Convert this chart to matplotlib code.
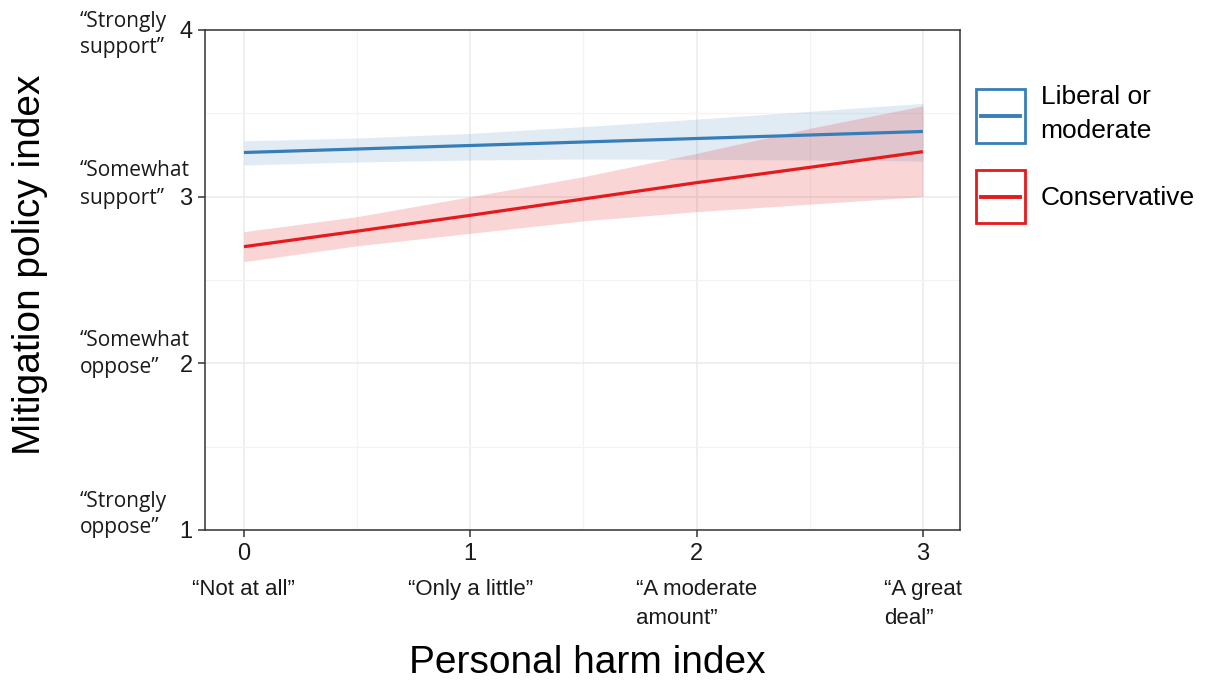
import matplotlib
matplotlib.use("Agg")
from matplotlib import pyplot as plt
from matplotlib.lines import Line2D
from matplotlib.patches import Rectangle
from matplotlib.legend_handler import HandlerBase

plt.rcParams["font.family"] = ["Liberation Sans", "DejaVu Sans"]

# personal harm index grid where fitted values were read
harm = [0, 0.5, 1, 1.5, 2, 2.5, 3]

lib_fit = [3.265, 3.286, 3.307, 3.328, 3.349, 3.370, 3.391]
lib_lo = [3.190, 3.208, 3.220, 3.226, 3.224, 3.220, 3.214]
lib_hi = [3.335, 3.352, 3.380, 3.420, 3.465, 3.512, 3.560]

con_fit = [2.700, 2.793, 2.888, 2.986, 3.084, 3.176, 3.270]
con_lo = [2.610, 2.705, 2.780, 2.855, 2.910, 2.955, 3.000]
con_hi = [2.790, 2.880, 3.000, 3.120, 3.260, 3.410, 3.545]

x_ticks = [0, 1, 2, 3]
x_cats = ["\u201cNot at all\u201d", "\u201cOnly a little\u201d",
          "\u201cA moderate\namount\u201d", "\u201cA great\ndeal\u201d"]
y_ticks = [1, 2, 3, 4]
y_cats_top = ["\u201cStrongly", "\u201cSomewhat", "\u201cSomewhat", "\u201cStrongly"]
y_cats_bot = ["oppose\u201d", "oppose\u201d", "support\u201d", "support\u201d"]
# pixel rows (from top) of the second line of each y category label
y_cat_rows = [528, 368, 198, 48]

series = ["Liberal or\nmoderate", "Conservative"]
colors = ["#377EB8", "#E41A1C"]


class BoxLineHandler(HandlerBase):
    # outlined square with a horizontal line through its middle
    def create_artists(self, legend, orig_handle, xdescent, ydescent,
                       width, height, fontsize, trans):
        c = orig_handle.get_color()
        box = Rectangle((-xdescent, -ydescent), width, height, facecolor="none",
                        edgecolor=c, lw=2, transform=trans)
        yc = -ydescent + height / 2
        pad = width * 0.1
        line = Line2D([-xdescent + pad, -xdescent + width - pad], [yc, yc],
                      color=c, lw=2.8, transform=trans)
        return [box, line]


def main():
    fig = plt.figure(figsize=(12.13, 6.8), dpi=100)
    ax = fig.add_axes([205 / 1213, 1 - 530 / 680, 755 / 1213, 500 / 680])

    ax.fill_between(harm, lib_lo, lib_hi, color=colors[0], alpha=0.15, lw=0)
    ax.fill_between(harm, con_lo, con_hi, color=colors[1], alpha=0.18, lw=0)
    ax.plot(harm, lib_fit, color=colors[0], lw=2.3, solid_capstyle="butt")
    ax.plot(harm, con_fit, color=colors[1], lw=2.3, solid_capstyle="butt")

    ax.set_xlim(-0.172, 3.164)
    ax.set_ylim(1, 4)
    ax.set_xticks(x_ticks)
    ax.set_yticks(y_ticks)
    ax.set_xticks([0.5, 1.5, 2.5], minor=True)
    ax.set_yticks([1.5, 2.5, 3.5], minor=True)
    ax.grid(True, which="major", color="#ebebeb", lw=1.1)
    ax.grid(True, which="minor", color="#f3f3f3", lw=0.9)
    ax.set_axisbelow(True)
    ax.tick_params(which="minor", length=0)
    ax.tick_params(which="major", length=5, width=1.1, color="#333333",
                   labelsize=17, labelcolor="#1a1a1a", pad=4)
    for sp in ax.spines.values():
        sp.set_color("#333333")
        sp.set_linewidth(1.1)

    for x, lab in zip(x_ticks, x_cats):
        ax.annotate(lab, xy=(x, 0), xycoords=("data", "axes fraction"),
                    xytext=(0, -49), textcoords="offset pixels",
                    ha="center", va="top", ma="left", fontsize=16,
                    linespacing=1.5, color="#1a1a1a")
    for top, bot, row in zip(y_cats_top, y_cats_bot, y_cat_rows):
        fig.text(80 / 1213, 1 - row / 680, bot, fontsize=15, family="Open Sans",
                 ha="left", va="center", color="#1a1a1a")
        fig.text(80 / 1213, 1 - (row - 27) / 680, top, fontsize=15,
                 family="Open Sans", ha="left", va="center", color="#1a1a1a")

    fig.text(587 / 1213, 1 - 663 / 680, "Personal harm index", fontsize=28,
             ha="center", va="center")
    fig.text(30 / 1213, 1 - 265 / 680, "Mitigation policy index", fontsize=28,
             ha="center", va="center", rotation=90)

    handles = [Line2D([], [], color=c) for c in colors]
    leg = fig.legend(handles, series, handler_map={Line2D: BoxLineHandler()},
                     loc="upper left", bbox_to_anchor=(976 / 1213, 1 - 85 / 680),
                     frameon=False, fontsize=19,
                     handlelength=1.85, handleheight=2.75, handletextpad=0.6,
                     labelspacing=1.0, borderpad=0, borderaxespad=0)
    leg.get_texts()[0].set_linespacing(1.55)

    fig.savefig("out.png", dpi=100)


if __name__ == "__main__":
    main()
